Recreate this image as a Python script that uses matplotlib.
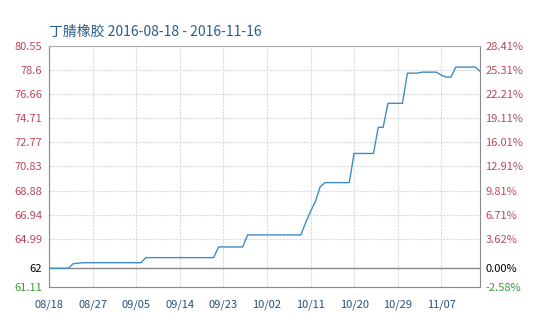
import numpy as np
import pandas as pd
from matplotlib import pyplot as plt

plt.rcParams['font.family'] = ['Noto Sans CJK SC', 'DejaVu Sans']

# daily price, 2016-08-18 onward
prices = [62.62, 62.62, 62.62, 62.62, 62.62, 62.99, 63.03, 63.07, 63.07, 63.07,
          63.07, 63.07, 63.07, 63.07, 63.07, 63.07, 63.07, 63.07, 63.07, 63.07,
          63.48, 63.48, 63.48, 63.48, 63.48, 63.48, 63.48, 63.48, 63.48, 63.48,
          63.48, 63.48, 63.48, 63.48, 63.48, 64.34, 64.34, 64.34, 64.34, 64.34,
          64.34, 65.31, 65.31, 65.31, 65.31, 65.31, 65.31, 65.31, 65.31, 65.31,
          65.31, 65.31, 65.31, 66.3, 67.2, 68.0, 69.2, 69.53, 69.53, 69.53,
          69.53, 69.53, 69.53, 71.88, 71.88, 71.88, 71.88, 71.88, 73.99, 73.99,
          75.93, 75.93, 75.93, 75.93, 78.36, 78.36, 78.36, 78.44, 78.44, 78.44,
          78.44, 78.2, 78.04, 78.04, 78.85, 78.85, 78.85, 78.85, 78.85, 78.52]
dates = pd.date_range('2016-08-18', periods=len(prices), freq='D')

left_ticks = [80.55, 78.6, 76.66, 74.71, 72.77, 70.83, 68.88, 66.94, 64.99]
left_labels = ['80.55', '78.6', '76.66', '74.71', '72.77', '70.83', '68.88', '66.94', '64.99']
right_labels = ['28.41%', '25.31%', '22.21%', '19.11%', '16.01%', '12.91%', '9.81%', '6.71%', '3.62%']
ymin = 61.11
base_label = '62'

red = '#b8495a'
green = '#3a9a3a'
grid = '#dadada'

fig = plt.figure(figsize=(5.36, 3.14), dpi=100)
ax = fig.add_axes([49 / 536, 1 - 287 / 314, (480 - 49) / 536, (287 - 46) / 314])

x = np.arange(len(prices))
ax.plot(x, prices, color='#3d8cc4', lw=1.0, zorder=3)

base = prices[0]
ax.axhline(base, color='#8a8a8a', lw=1.0, zorder=2)

yt = left_ticks + [base, ymin]
ax.set_ylim(ymin, left_ticks[0])
ax.set_xlim(0, len(prices) - 1)
ax.set_yticks(yt)
ax.set_yticklabels(left_labels + [base_label, '61.11'])
for i, t in enumerate(ax.get_yticklabels()):
    t.set_color(red if i < len(left_labels) else ('black' if i == len(left_labels) else green))

xt = x[::9][:10]
ax.set_xticks(xt)
ax.set_xticklabels([d.strftime('%m/%d') for d in dates[xt]], color='#2a4f7a')

ax.grid(True, color=grid, lw=0.8, ls=(0, (2, 1)))
ax.tick_params(length=0, labelsize=8, pad=5)
ax.tick_params(axis='x', pad=9)
for s in ['left', 'right', 'bottom']:
    ax.spines[s].set_color('#8a8a8a')
ax.spines['top'].set_color('#aaaaaa')
ax.spines['top'].set_linestyle((0, (2, 1)))

ax2 = ax.twinx()
ax2.set_ylim(ax.get_ylim())
ax2.set_yticks(yt)
ax2.set_yticklabels(right_labels + ['0.00%', '-2.58%'])
for i, t in enumerate(ax2.get_yticklabels()):
    t.set_color(red if i < len(right_labels) else ('black' if i == len(right_labels) else green))
ax2.tick_params(length=0, labelsize=8, pad=4)
for s in ax2.spines.values():
    s.set_visible(False)

fig.text(49 / 536, 1 - 32 / 314, '丁腈橡胶 2016-08-18 - 2016-11-16', color='#2a5d8a',
         fontsize=10, va='center', ha='left')

fig.savefig('out.png', dpi=100)
